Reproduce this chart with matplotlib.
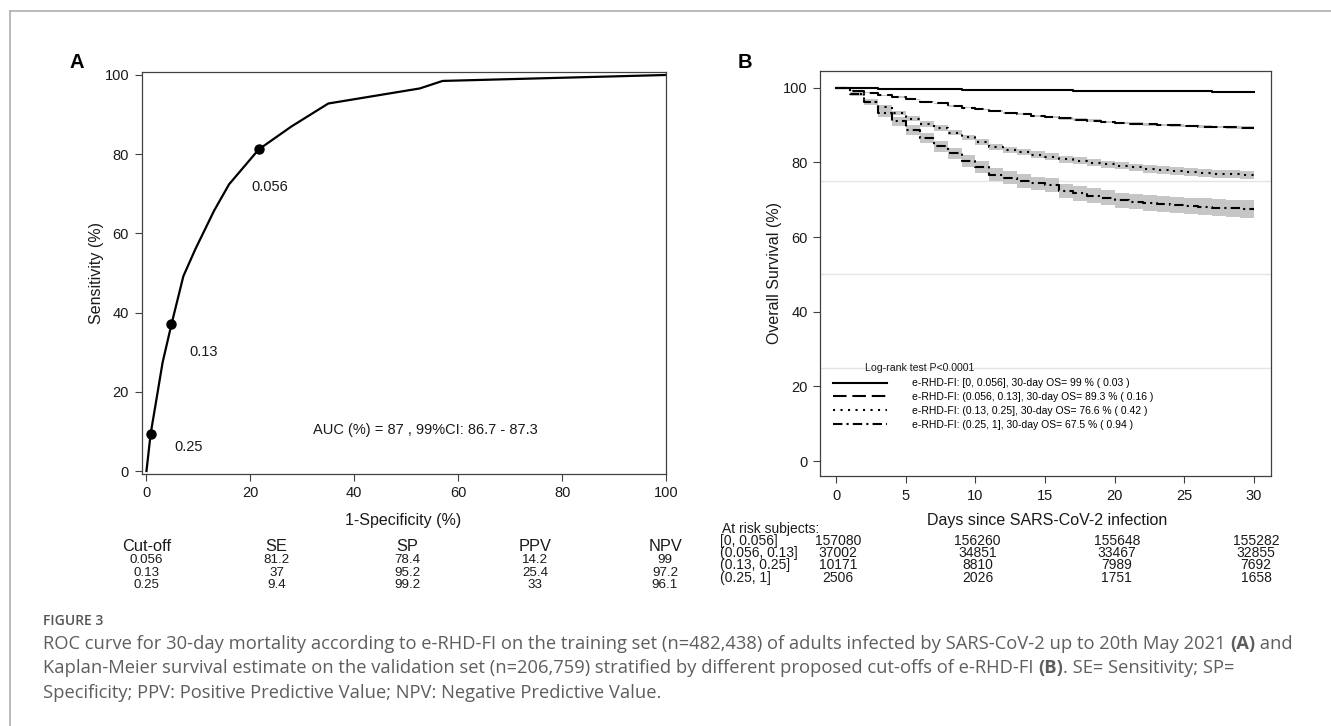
import numpy as np
import matplotlib.pyplot as plt
from matplotlib.lines import Line2D
from matplotlib.ticker import MultipleLocator

plt.rcParams['font.family'] = ['Liberation Sans', 'DejaVu Sans']

W, H = 1331, 726


def fx(px):
    return px / W


def fy(py):
    return 1 - py / H


# ---- panel A: ROC curve ----
roc_fpr = [0, 0.8, 1.7, 3.1, 4.8, 7.1, 9.4, 13.0, 15.9, 21.6, 27.9, 35.0, 52.6, 57.0, 100]
roc_tpr = [0, 9.4, 16.4, 27.4, 37.0, 49.2, 56.0, 65.7, 72.4, 81.2, 87.0, 92.8, 96.6, 98.5, 100]

cutoffs = ['0.056', '0.13', '0.25']
se = [81.2, 37, 9.4]
sp = [78.4, 95.2, 99.2]
ppv = [14.2, 25.4, 33]
npv = [99, 97.2, 96.1]
cut_offsets = [(-5, -27), (13, -20), (17, -9.5)]   # label offsets in points
auc_text = 'AUC (%) = 87 , 99%CI: 86.7 - 87.3'

# ---- panel B: Kaplan-Meier by e-RHD-FI group ----
days = np.arange(31)
os_g1 = [100, 99.9, 99.85, 99.8, 99.75, 99.7, 99.65, 99.6, 99.55, 99.5, 99.5, 99.45, 99.4, 99.4, 99.35, 99.3,
         99.3, 99.25, 99.25, 99.2, 99.2, 99.15, 99.15, 99.1, 99.1, 99.05, 99.05, 99.0, 99.0, 99.0, 99.0]
os_g2 = [100, 99.2, 98.7, 98.0, 97.5, 96.9, 96.3, 95.8, 95.2, 94.7, 94.2, 93.7, 93.3, 92.9, 92.5, 92.1,
         91.8, 91.5, 91.2, 90.9, 90.6, 90.4, 90.2, 90.0, 89.9, 89.8, 89.6, 89.5, 89.4, 89.3, 89.3]
os_g3 = [100, 98.4, 96.3, 94.8, 93.2, 91.7, 90.3, 89.2, 88.0, 86.7, 85.5, 84.2, 83.4, 82.8, 82.1, 81.5,
         80.9, 80.4, 79.9, 79.5, 79.1, 78.7, 78.3, 78.0, 77.7, 77.4, 77.2, 77.0, 76.8, 76.6, 76.6]
os_g4 = [100, 98.3, 96.2, 93.3, 91.0, 88.6, 86.5, 84.3, 82.4, 80.3, 78.8, 76.7, 75.9, 75.0, 74.4, 73.9,
         72.4, 71.7, 71.1, 70.5, 69.9, 69.5, 69.2, 68.9, 68.6, 68.3, 68.1, 67.9, 67.7, 67.5, 67.5]

# half-width of the 95% band
ci_g1 = [0, 0.05, 0.05, 0.06, 0.06, 0.07, 0.07, 0.07, 0.08, 0.08, 0.08, 0.08, 0.09, 0.09, 0.09, 0.09,
         0.09, 0.1, 0.1, 0.1, 0.1, 0.1, 0.1, 0.1, 0.1, 0.1, 0.1, 0.1, 0.1, 0.1, 0.1]
ci_g2 = [0, 0.1, 0.12, 0.15, 0.17, 0.19, 0.2, 0.22, 0.23, 0.24, 0.25, 0.26, 0.27, 0.28, 0.28, 0.29,
         0.3, 0.3, 0.31, 0.31, 0.32, 0.32, 0.33, 0.33, 0.33, 0.34, 0.34, 0.34, 0.35, 0.35, 0.35]
ci_g3 = [0, 0.3, 0.45, 0.55, 0.6, 0.65, 0.7, 0.72, 0.75, 0.78, 0.8, 0.82, 0.84, 0.86, 0.88, 0.9,
         0.92, 0.93, 0.95, 0.96, 0.97, 0.98, 1.0, 1.0, 1.02, 1.03, 1.04, 1.05, 1.06, 1.07, 1.07]
ci_g4 = [0, 0.6, 0.9, 1.1, 1.2, 1.3, 1.4, 1.5, 1.6, 1.6, 1.7, 1.7, 1.75, 1.8, 1.8, 1.85,
         1.9, 1.9, 1.95, 2.0, 2.0, 2.05, 2.1, 2.1, 2.15, 2.2, 2.25, 2.3, 2.35, 2.4, 2.4]

groups = ['[0, 0.056]', '(0.056, 0.13]', '(0.13, 0.25]', '(0.25, 1]']
os30 = ['99', '89.3', '76.6', '67.5']
os30_se = ['0.03', '0.16', '0.42', '0.94']
styles = ['-', (0, (6.5, 2.8)), (0, (1, 2.6)), (0, (4.5, 2, 1, 2))]

risk_days = [0, 10, 20, 30]
risk_g1 = [157080, 156260, 155648, 155282]
risk_g2 = [37002, 34851, 33467, 32855]
risk_g3 = [10171, 8810, 7989, 7692]
risk_g4 = [2506, 2026, 1751, 1658]

fig = plt.figure(figsize=(W / 100, H / 100), dpi=100)

tick_kw = dict(direction='out', length=5, width=0.8, pad=4, labelsize=10.5,
               color='#404040', labelcolor='#1a1a1a')

# ROC panel
axA = fig.add_axes([fx(141.6), fy(473.5), (666 - 141.6) / W, (473.5 - 71.7) / H])
axA.plot(roc_fpr, roc_tpr, color='black', lw=1.6, zorder=2)
dot_x = [100 - v for v in sp]
axA.plot(dot_x, se, 'o', color='black', ms=6.5, zorder=3)
for c, x0, y0, off in zip(cutoffs, dot_x, se, cut_offsets):
    axA.annotate(c, (x0, y0), xytext=off, textcoords='offset points',
                 ha='left', va='center', fontsize=10.5, color='#1a1a1a')
axA.text(53.65, 10.35, auc_text, ha='center', va='center', fontsize=10.5, color='#1a1a1a')
axA.set_xlim(-0.94, 100)
axA.set_ylim(-0.63, 100.83)
axA.set_xticks([0, 20, 40, 60, 80, 100])
axA.set_yticks([0, 20, 40, 60, 80, 100])
axA.tick_params(**tick_kw)
for s in axA.spines.values():
    s.set_color('#404040')
    s.set_linewidth(0.9)

# survival panel
axB = fig.add_axes([fx(820), fy(476), (1270.5 - 820) / W, (476 - 71) / H])
curves = [os_g1, os_g2, os_g3, os_g4]
bands = [ci_g1, ci_g2, ci_g3, ci_g4]
for surv, ci in zip(curves, bands):
    surv = np.array(surv)
    ci = np.array(ci)
    axB.fill_between(days, surv - ci, surv + ci, step='post', color='#c6c6c6', lw=0, zorder=1)
handles = []
for surv, ls in zip(curves, styles):
    h, = axB.step(days, surv, where='post', color='black', lw=1.5, ls=ls, zorder=2)
    handles.append(h)

labels = ['e-RHD-FI: %s, 30-day OS= %s %% ( %s )' % (g, o, e) for g, o, e in zip(groups, os30, os30_se)]
axB.legend(handles, labels, loc='upper left', bbox_to_anchor=(0.0297, 0.241), frameon=False,
           fontsize=7.5, handlelength=5.1, handletextpad=2.4, labelspacing=0.36,
           borderpad=0, borderaxespad=0)
axB.text(2.05, 25.0, 'Log-rank test P<0.0001', ha='left', va='center', fontsize=7.6, color='#1a1a1a')

axB.set_xlim(-1.16, 31.18)
axB.set_ylim(-4.0, 104.5)
axB.set_xticks([0, 5, 10, 15, 20, 25, 30])
axB.set_yticks([0, 20, 40, 60, 80, 100])
axB.yaxis.set_minor_locator(MultipleLocator(25))
axB.grid(True, which='minor', axis='y', color='#e4e4e4', lw=1, zorder=0)
axB.set_axisbelow(True)
axB.tick_params(**tick_kw)
axB.tick_params(which='minor', length=0)
for s in axB.spines.values():
    s.set_color('#404040')
    s.set_linewidth(0.9)

# panel letters and axis titles
fig.text(fx(70), fy(62.5), 'A', fontsize=14.5, fontweight='bold', va='center', ha='left')
fig.text(fx(738), fy(62.5), 'B', fontsize=14.5, fontweight='bold', va='center', ha='left')
fig.text(fx(403), fy(520), '1-Specificity (%)', fontsize=11.5, ha='center', va='center', color='#1a1a1a')
fig.text(fx(96), fy(273), 'Sensitivity (%)', fontsize=11.5, rotation=90, ha='center', va='center',
         color='#1a1a1a')
fig.text(fx(774), fy(273), 'Overall Survival (%)', fontsize=11.5, rotation=90, ha='center', va='center',
         color='#1a1a1a')
fig.text(fx(1047), fy(521), 'Days since SARS-CoV-2 infection', fontsize=11.5, ha='center', va='center',
         color='#1a1a1a')

# diagnostic table under the ROC curve
col_x = [146.7, 276.7, 407, 535, 665]
headers = ['Cut-off', 'SE', 'SP', 'PPV', 'NPV']
for cx, hd in zip(col_x, headers):
    fig.text(fx(cx), fy(551), hd, fontsize=11.8, ha='center', va='baseline', color='#1a1a1a')
for i, row in enumerate(zip(cutoffs, se, sp, ppv, npv)):
    for cx, v in zip(col_x, row):
        fig.text(fx(cx), fy(563.3 + 12.2 * i), str(v), fontsize=9.6, ha='center', va='baseline',
                 color='#1a1a1a')

# number at risk
fig.text(fx(722), fy(533.3), 'At risk subjects:', fontsize=10, ha='left', va='baseline', color='#1a1a1a')
risk = [risk_g1, risk_g2, risk_g3, risk_g4]
for i, (g, counts) in enumerate(zip(groups, risk)):
    yb = fy(545 + 12.2 * i)
    fig.text(fx(720), yb, g, fontsize=10, ha='left', va='baseline', color='#1a1a1a')
    for d, n in zip(risk_days, counts):
        xd = axB.transData.transform((d, 0))[0] / W
        fig.text(xd + fx(2), yb, str(n), fontsize=10, ha='center', va='baseline', color='#1a1a1a')

# caption
cap_font = ['Open Sans', 'DejaVu Sans']
cap_color = '#5e5e5e'
fig.text(fx(43), fy(625), 'FIGURE 3', family=cap_font, fontsize=10,
         fontweight='semibold', color='#555555', va='baseline')

caption = [
    [('ROC curve for 30-day mortality according to e-RHD-FI on the training set (n=482,438) of adults '
      'infected by SARS-CoV-2 up to 20th May 2021 ', False), ('(A)', True), (' and', False)],
    [('Kaplan-Meier survival estimate on the validation set (n=206,759) stratified by different '
      'proposed cut-offs of e-RHD-FI ', False), ('(B)', True),
     ('. SE= Sensitivity; SP=', False)],
    [('Specificity; PPV: Positive Predictive Value; NPV: Negative Predictive Value.', False)],
]
renderer = fig.canvas.get_renderer()

# size the caption so its first line runs to the right margin
probe = fig.text(0, 0, ''.join(s for s, _ in caption[0]), family=cap_font, fontsize=10)
cap_size = 10 * (1291 - 43) / probe.get_window_extent(renderer).width
probe.remove()

for i, parts in enumerate(caption):
    x = 43
    for s, bold in parts:
        t = fig.text(fx(x), fy(649 + 24.3 * i), s, family=cap_font, fontsize=cap_size,
                     fontweight='bold' if bold else 'normal', color=cap_color, va='baseline')
        x += t.get_window_extent(renderer).width

# outer frame
frame_kw = dict(color='#b4b4b4', lw=1.3, transform=fig.transFigure)
fig.add_artist(Line2D([fx(10), fx(10)], [fy(11), 0], **frame_kw))
fig.add_artist(Line2D([fx(10), 1], [fy(11), fy(11)], **frame_kw))

fig.savefig('out.png', dpi=100)
